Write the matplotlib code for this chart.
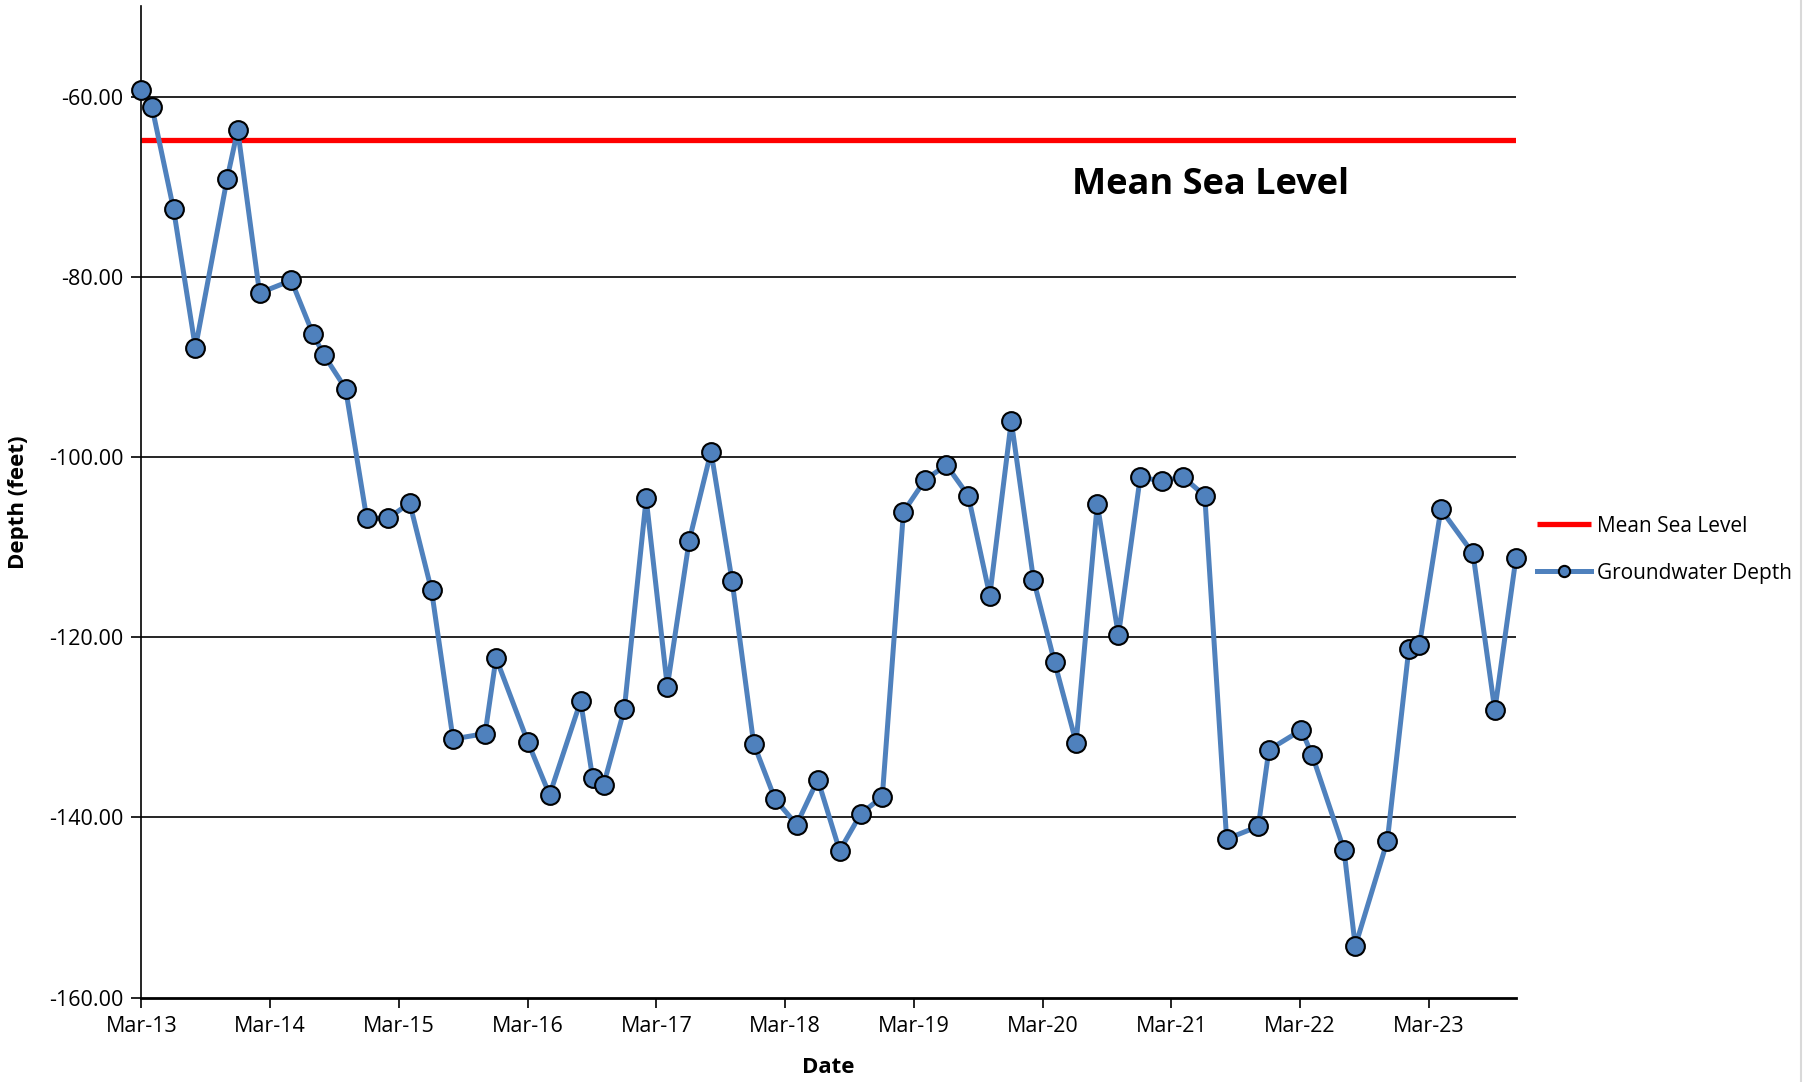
import matplotlib
matplotlib.use("Agg")
import matplotlib.pyplot as plt
import matplotlib.dates as mdates
import numpy as np
from matplotlib.lines import Line2D

plt.rcParams['font.family'] = ['Open Sans', 'DejaVu Sans']

# groundwater readings (depth in feet, relative to datum)
dates = [
    "2013-03-01", "2013-03-31", "2013-05-31", "2013-08-01", "2013-10-30", "2013-11-29",
    "2014-01-30", "2014-04-30", "2014-07-01", "2014-08-01", "2014-10-01", "2014-11-30",
    "2015-01-30", "2015-04-01", "2015-06-02", "2015-08-02", "2015-11-01", "2015-12-02",
    "2016-03-01", "2016-05-02", "2016-07-29", "2016-09-01", "2016-10-02", "2016-11-30",
    "2017-01-31", "2017-04-01", "2017-06-02", "2017-08-03", "2017-10-02", "2017-12-02",
    "2018-02-01", "2018-04-03", "2018-06-02", "2018-08-03", "2018-10-02", "2018-12-02",
    "2019-01-31", "2019-04-03", "2019-06-02", "2019-08-03", "2019-10-03", "2019-12-03",
    "2020-02-04", "2020-04-04", "2020-06-04", "2020-08-03", "2020-10-02", "2020-12-03",
    "2021-02-02", "2021-04-03", "2021-06-04", "2021-08-05", "2021-11-03", "2021-12-03",
    "2022-03-05", "2022-04-05", "2022-07-04", "2022-08-05", "2022-11-04", "2023-01-04",
    "2023-02-03", "2023-04-05", "2023-07-05", "2023-09-05", "2023-11-04",
]
depth = [
    -59.3, -61.2, -72.5, -87.9, -69.1, -63.7,
    -81.8, -80.4, -86.4, -88.7, -92.4, -106.8,
    -106.8, -105.1, -114.8, -131.3, -130.7, -122.3,
    -131.6, -137.5, -127.1, -135.6, -136.4, -128.0,
    -104.6, -125.5, -109.3, -99.4, -113.8, -131.8,
    -138.0, -140.8, -135.8, -143.7, -139.6, -137.7,
    -106.1, -102.5, -100.9, -104.3, -115.4, -96.0,
    -113.6, -122.8, -131.7, -105.2, -119.8, -102.2,
    -102.7, -102.2, -104.3, -142.4, -141.0, -132.5,
    -130.3, -133.1, -143.6, -154.3, -142.6, -121.3,
    -120.9, -105.8, -110.7, -128.1, -111.2,
]
mean_sea_level = -64.8

x = np.array(dates, dtype="datetime64[D]")

fig = plt.figure(figsize=(18.14, 10.82), dpi=100)
ax = fig.add_axes([0.078, 0.078, 0.7577, 0.916])

for yv in [-60, -80, -100, -120, -140]:
    ax.axhline(yv, color="black", lw=1.2, zorder=1)

ax.plot([x[0], x[-1]], [mean_sea_level, mean_sea_level], color="#FF0000", lw=3.8,
        solid_capstyle="butt", zorder=2, label="Mean Sea Level")
ax.plot(x, depth, color="#4F81BD", lw=3.6, marker="o", markersize=13.5,
        markerfacecolor="#4F81BD", markeredgecolor="black", markeredgewidth=1.5,
        zorder=3, clip_on=False, label="Groundwater Depth")

ax.text(0.778, -69.8, "Mean Sea Level", fontsize=26, fontweight="bold",
        ha="center", va="center", transform=ax.get_yaxis_transform())

ax.set_xlim(x[0], x[-1])
ax.set_ylim(-160, -50)
ax.set_yticks([-160, -140, -120, -100, -80, -60])
ax.yaxis.set_major_formatter(plt.FuncFormatter(lambda v, p: f"{v:.2f}"))
ax.xaxis.set_major_locator(mdates.MonthLocator(bymonth=3))
ax.xaxis.set_major_formatter(mdates.DateFormatter("%b-%y"))

ax.spines["top"].set_visible(False)
ax.spines["right"].set_visible(False)
ax.spines["left"].set_linewidth(1.2)
ax.spines["bottom"].set_linewidth(2.0)
ax.tick_params(axis="both", labelsize=15.5, direction="out", length=7, width=1.2, pad=6)

ax.set_ylabel("Depth (feet)", fontsize=16, fontweight="bold", labelpad=14)
ax.set_xlabel("Date", fontsize=16, fontweight="bold", labelpad=15)

ax.legend(loc="center left", bbox_to_anchor=(1.0, 0.452), frameon=False,
          fontsize=15, handlelength=2.6, markerscale=0.6, labelspacing=1.25,
          handletextpad=0.3, borderaxespad=0.6)

fig.add_artist(Line2D([0.993, 0.993], [0, 1], transform=fig.transFigure,
                      color="#D9D9D9", lw=1.5))

fig.savefig("out.png", dpi=100)
